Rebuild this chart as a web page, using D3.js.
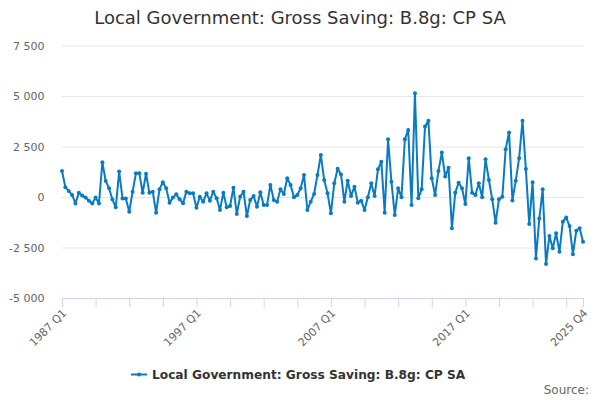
<!DOCTYPE html>
<html>
<head>
<meta charset="utf-8">
<script src="https://cdn.jsdelivr.net/npm/d3@7"></script>
<style>
  body { margin: 0; background: #fff; }
  svg { font-family: "DejaVu Sans", sans-serif; display: block; }
</style>
</head>
<body>
<div id="chart"></div>
<script>
var width = 600, height = 400;
var margin = {top: 45.5, right: 16, bottom: 102, left: 62};

var title = "Local Government: Gross Saving: B.8g: CP SA";
var seriesName = "Local Government: Gross Saving: B.8g: CP SA";

// quarterly values, 1987 Q1 .. 2025 Q4
var values = [
  1290, 480, 300, 100, -320, 210, 70, -30, -180, -320,
  -30, -320, 1720, 790, 430, -120, -510, 1260, -70, -70,
  -730, 260, 1170, 1170, 210, 1150, 215, 265, -780, 380,
  730, 430, -280, -30, 130, -115, -315, 265, 180, 180,
  -530, 15, -230, 180, -180, 265, -65, -645, 215, -510,
  -445, 460, -840, 15, 265, -940, -150, 50, -480, 230,
  -400, -400, 600, -150, -230, 380, 150, 930, 600, -15,
  100, 430, 1090, -645, -230, 150, 1090, 2080, 840, 180,
  -810, 680, 1400, 1120, -230, 810, 50, 510, -280, -180,
  -645, -15, 680, 50, 1370, 1750, -780, 2860, 760, -890,
  430, -15, 2860, 3320, -400, 5140, -65, 380, 3490, 3780,
  930, 100, 1290, 2200, 1010, 1450, -1550, 215, 710, 430,
  -350, 1920, 215, 100, 680, -15, 1870, 840, -115, -1270,
  -115, 15, 2370, 3190, -170, 810, 1920, 3780, 1390, -1340,
  730, -3040, -1060, 380, -3320, -1930, -2540, -1800, -2710, -1220,
  -1010, -1440, -2830, -1670, -1550, -2220
];

var startYear = 1987;
var quarters = values.map(function(v, i) {
  return (startYear + Math.floor(i / 4)) + " Q" + (i % 4 + 1);
});

var yTicks = [-5000, -2500, 0, 2500, 5000, 7500];
var labelQuarters = ["1987 Q1", "1997 Q1", "2007 Q1", "2017 Q1", "2025 Q4"];
var tickQuarters = quarters.filter(function(q, i) { return i % 10 === 0; }).concat(["2025 Q4"]);

var plotRight = 584;

var svg = d3.select("#chart").append("svg")
    .attr("width", width)
    .attr("height", height);

var x = d3.scalePoint()
    .domain(quarters)
    .range([margin.left, 583]);

var y = d3.scaleLinear()
    .domain([-5000, 7500])
    .range([height - margin.bottom, margin.top]);

var fmt = function(d) { return d3.format(",")(d).replace(/,/g, " ").replace("−", "-"); };

// title
svg.append("text")
    .attr("x", width / 2)
    .attr("y", 24)
    .attr("text-anchor", "middle")
    .attr("font-size", 18)
    .attr("fill", "#333")
    .text(title);

// grid + y labels
var yAxis = svg.append("g")
    .attr("transform", "translate(" + margin.left + ",0)")
    .call(d3.axisLeft(y).tickValues(yTicks).tickSize(-(plotRight - margin.left)).tickFormat(fmt));
yAxis.select(".domain").remove();
yAxis.selectAll(".tick line").attr("stroke", "#e6e6e6");
yAxis.selectAll(".tick text")
    .attr("x", -17.5)
    .attr("fill", "#666")
    .attr("font-size", 11)
    .attr("font-family", "DejaVu Sans, sans-serif");

// x axis
var xAxis = svg.append("g")
    .attr("transform", "translate(0," + (height - margin.bottom) + ")")
    .call(d3.axisBottom(x).tickValues(tickQuarters).tickSize(9).tickSizeOuter(0)
        .tickFormat(function(d) { return labelQuarters.indexOf(d) >= 0 ? d : ""; }));
xAxis.select(".domain").attr("stroke", "#ccd6eb").attr("d", "M" + margin.left + ",0.5H" + plotRight);
xAxis.selectAll(".tick line").attr("stroke", "#ccd6eb");
xAxis.selectAll(".tick text")
    .attr("fill", "#666")
    .attr("font-size", 11)
    .attr("font-family", "DejaVu Sans, sans-serif")
    .attr("text-anchor", "end")
    .attr("x", 0)
    .attr("y", 0)
    .attr("dy", "0.35em")
    .attr("transform", "translate(2,13) rotate(-45)");

// series
var color = "#0a7ac3";
var line = d3.line()
    .x(function(d, i) { return x(quarters[i]); })
    .y(function(d) { return y(d); });

svg.append("path")
    .datum(values)
    .attr("fill", "none")
    .attr("stroke", color)
    .attr("stroke-width", 2)
    .attr("stroke-linejoin", "round")
    .attr("d", line);

svg.append("g")
    .selectAll("circle")
    .data(values)
    .join("circle")
        .attr("cx", function(d, i) { return x(quarters[i]); })
        .attr("cy", function(d) { return y(d); })
        .attr("r", 2)
        .attr("fill", color);

// legend
var legend = svg.append("g").attr("transform", "translate(131,374.5)");
legend.append("line")
    .attr("x1", 0).attr("x2", 16)
    .attr("stroke", color).attr("stroke-width", 2);
legend.append("circle")
    .attr("cx", 8).attr("r", 2).attr("fill", color);
legend.append("text")
    .attr("x", 21)
    .attr("dy", "0.35em")
    .attr("font-size", 12.2)
    .attr("font-weight", "bold")
    .attr("fill", "#333")
    .text(seriesName);

// credits
svg.append("text")
    .attr("x", width - 11)
    .attr("y", 394)
    .attr("text-anchor", "end")
    .attr("font-size", 12)
    .attr("fill", "#666")
    .text("Source:");
</script>
</body>
</html>
